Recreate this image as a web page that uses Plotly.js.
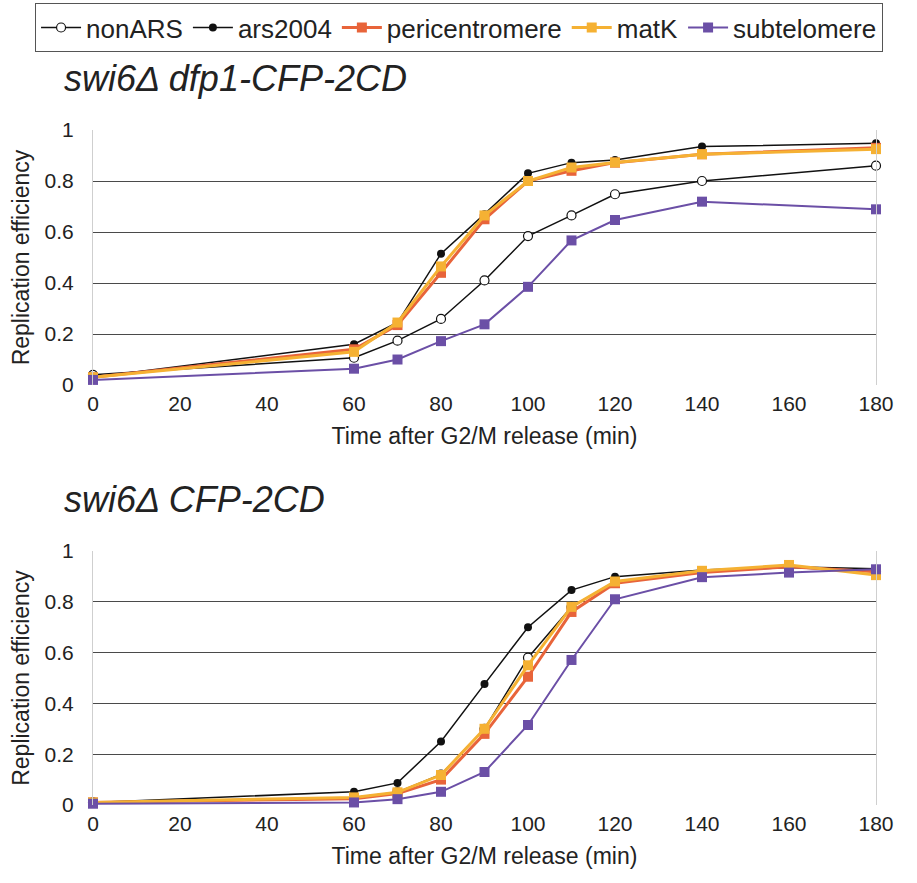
<!DOCTYPE html>
<html>
<head>
<meta charset="utf-8">
<script src="https://cdn.plot.ly/plotly-3.0.1.min.js"></script>
<style>html,body{margin:0;padding:0;background:#fff;}#chart{width:917px;height:883px;}</style>
</head>
<body>
<div id="chart"></div>
<script>
// ---- Data ----
const seriesNames = ["nonARS", "ars2004", "pericentromere", "matK", "subtelomere"];

const timesTop = [0, 60, 70, 80, 90, 100, 110, 120, 140, 180];
const topNonARS = [0.04, 0.107, 0.174, 0.259, 0.41, 0.584, 0.665, 0.748, 0.80, 0.86];
const topArs2004 = [0.03, 0.16, 0.245, 0.515, 0.67, 0.83, 0.872, 0.882, 0.935, 0.948];
const topPericentromere = [0.03, 0.14, 0.235, 0.44, 0.65, 0.80, 0.84, 0.872, 0.905, 0.93];
const topMatK = [0.03, 0.13, 0.245, 0.465, 0.665, 0.80, 0.853, 0.873, 0.905, 0.925];
const topSubtelomere = [0.02, 0.064, 0.1, 0.172, 0.238, 0.385, 0.567, 0.647, 0.719, 0.689];

const timesBottom = [0, 60, 70, 80, 90, 100, 110, 120, 140, 160, 180];
const botNonARS = [0.01, 0.03, 0.05, 0.12, 0.30, 0.58, 0.78, 0.88, 0.92, 0.935, 0.92];
const botArs2004 = [0.01, 0.052, 0.087, 0.25, 0.476, 0.70, 0.846, 0.899, 0.925, 0.938, 0.93];
const botPericentromere = [0.01, 0.025, 0.045, 0.10, 0.28, 0.505, 0.76, 0.873, 0.915, 0.938, 0.918];
const botMatK = [0.01, 0.03, 0.05, 0.118, 0.30, 0.55, 0.78, 0.88, 0.922, 0.945, 0.905];
const botSubtelomere = [0.005, 0.01, 0.023, 0.052, 0.13, 0.315, 0.571, 0.81, 0.897, 0.915, 0.928];

const titleTop = "swi6Δ dfp1-CFP-2CD";
const titleBottom = "swi6Δ CFP-2CD";
const xTitle = "Time after G2/M release (min)";
const yTitle = "Replication efficiency";
const xTicks = [0, 20, 40, 60, 80, 100, 120, 140, 160, 180];
const yTicks = [0, 0.2, 0.4, 0.6, 0.8, 1];
const yTickText = ["0", "0.2", "0.4", "0.6", "0.8", "1"];

// ---- Styles ----
const FONT = "Liberation Sans, Arial, Helvetica, sans-serif";
const styles = {
  nonARS: {line: {color: "#111", width: 1.5}, marker: {symbol: "circle", size: 9, color: "#fff", line: {color: "#111", width: 1.2}}},
  ars2004: {line: {color: "#111", width: 1.5}, marker: {symbol: "circle", size: 8, color: "#111"}},
  pericentromere: {line: {color: "#E8643A", width: 3}, marker: {symbol: "square", size: 10, color: "#E8643A"}},
  matK: {line: {color: "#F5B133", width: 3}, marker: {symbol: "square", size: 10, color: "#F5B133"}},
  subtelomere: {line: {color: "#6B4FA6", width: 2}, marker: {symbol: "square", size: 10, color: "#6B4FA6"}}
};

function mk(name, x, y, xa, ya, show) {
  return {
    type: "scatter", mode: "lines+markers", name: name, x: x, y: y,
    xaxis: xa, yaxis: ya, showlegend: show, legendgroup: name,
    line: styles[name].line, marker: styles[name].marker, cliponaxis: false
  };
}

const topY = [topNonARS, topArs2004, topPericentromere, topMatK, topSubtelomere];
const botY = [botNonARS, botArs2004, botPericentromere, botMatK, botSubtelomere];
const traces = [];
seriesNames.forEach((n, i) => traces.push(mk(n, timesTop, topY[i], "x", "y", true)));
seriesNames.forEach((n, i) => traces.push(mk(n, timesBottom, botY[i], "x2", "y2", false)));

function xAxis(anchor) {
  return {
    anchor: anchor, domain: [0, 1], range: [0, 180], tickvals: xTicks,
    showgrid: false, zeroline: false, showline: false, ticks: "",
    tickfont: {family: FONT, size: 21, color: "#222"}, ticklabelstandoff: 4,
    title: {text: xTitle, font: {family: FONT, size: 23, color: "#222"}, standoff: 13}
  };
}
function yAxis(anchor, domain) {
  return {
    anchor: anchor, domain: domain, range: [0, 1], tickvals: yTicks, ticktext: yTickText,
    showgrid: true, gridcolor: "#4a4a4a", gridwidth: 1, zeroline: false,
    showline: true, linecolor: "#cfcfcf", linewidth: 1, mirror: true, ticks: "",
    tickfont: {family: FONT, size: 21, color: "#222"}, ticklabelstandoff: 14,
    title: {text: yTitle, font: {family: FONT, size: 23, color: "#222"}, standoff: 8}
  };
}

const layout = {
  width: 917, height: 883,
  margin: {l: 93, r: 41, t: 130, b: 78, autoexpand: false},
  paper_bgcolor: "#fff", plot_bgcolor: "#fff",
  font: {family: FONT, color: "#222"},
  xaxis: xAxis("y"),
  yaxis: yAxis("x", [0.6222, 1]),
  xaxis2: xAxis("y2"),
  yaxis2: yAxis("x2", [0, 0.3763]),
  showlegend: true,
  legend: {
    orientation: "h", xref: "paper", yref: "paper",
    x: -0.074, xanchor: "left", y: 1.188, yanchor: "top",
    font: {family: FONT, size: 26, color: "#222"},
    bordercolor: "#555", borderwidth: 1, bgcolor: "#fff",
    itemwidth: 40, tracegroupgap: 0, traceorder: "normal"
  },
  annotations: [
    {text: titleTop, xref: "paper", yref: "paper", x: -0.04, y: 1.0756, xanchor: "left", yanchor: "middle",
     showarrow: false, font: {family: FONT, size: 36, color: "#222", style: "italic"}},
    {text: titleBottom, xref: "paper", yref: "paper", x: -0.04, y: 0.4519, xanchor: "left", yanchor: "middle",
     showarrow: false, font: {family: FONT, size: 36, color: "#222", style: "italic"}}
  ]
};

Plotly.newPlot("chart", traces, layout, {staticPlot: true, displayModeBar: false});
</script>
</body>
</html>
